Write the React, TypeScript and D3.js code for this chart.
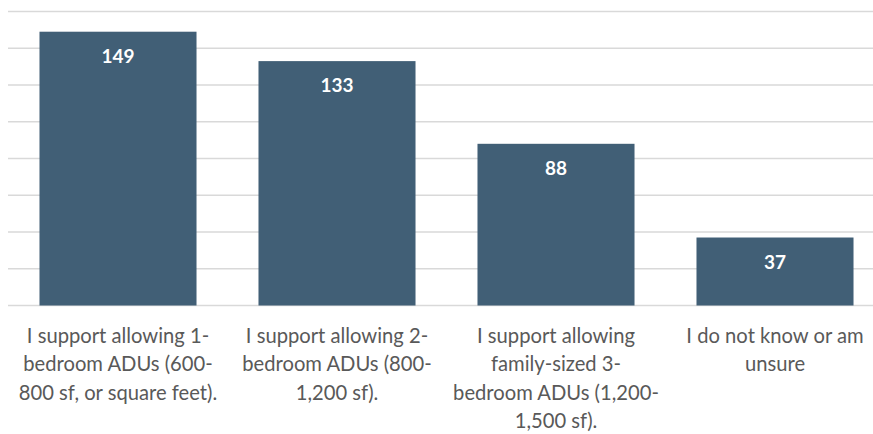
import React from "react";
import * as d3 from "d3";

const categories: string[] = ["cat1", "cat2", "cat3", "cat4"];
const values: number[] = [149, 133, 88, 37];
const categoryLabelLines: string[][] = [
  ["I support allowing 1-", "bedroom ADUs (600-", "800 sf, or square feet)."],
  ["I support allowing 2-", "bedroom ADUs (800-", "1,200 sf)."],
  ["I support allowing", "family-sized 3-", "bedroom ADUs (1,200-", "1,500 sf)."],
  ["I do not know or am", "unsure"],
];
const yTicks: number[] = [0, 20, 40, 60, 80, 100, 120, 140, 160];

const W = 873;
const H = 434;

export default function App() {
  const x = d3.scaleBand<string>().domain(categories).range([8.5, 884.5]).paddingInner(0.283).paddingOuter(0.1415);
  const y = d3.scaleLinear().domain([0, 160]).range([305.5, 11.5]);
  const font = "Lato, Carlito, 'Liberation Sans', sans-serif";
  return (
    <svg width={W} height={H} style={{ position: "absolute", left: 0, top: 0, background: "#fff" }}>
      {yTicks.map((t) => (
        <line key={t} x1={8} x2={W} y1={y(t)} y2={y(t)} stroke="#d9d9d9" strokeWidth={1.5} />
      ))}
      {categories.map((c, i) => {
        const bx = x(c)!;
        const bw = x.bandwidth();
        const top = y(values[i]);
        return (
          <g key={c}>
            <rect x={bx} y={top} width={bw} height={y(0) - top} fill="#415f76" />
            <text x={bx + bw / 2} y={top + 31} textAnchor="middle" fill="#ffffff" fontFamily={font} fontWeight="bold" fontSize={19}>
              {values[i]}
            </text>
            {categoryLabelLines[i].map((ln, j) => (
              <text key={j} x={bx + bw / 2} y={343 + j * 28.3} textAnchor="middle" fill="#595959" fontFamily={font} fontSize={20.2}>
                {ln}
              </text>
            ))}
          </g>
        );
      })}
    </svg>
  );
}
